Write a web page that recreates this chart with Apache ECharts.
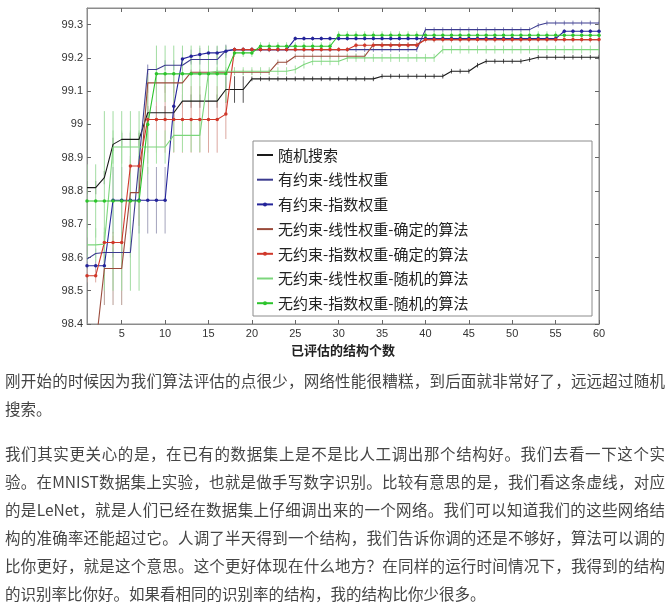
<!DOCTYPE html>
<html>
<head>
<meta charset="utf-8">
<script src="https://cdn.jsdelivr.net/npm/echarts@6/dist/echarts.min.js"></script>
<style>
  html, body { margin: 0; padding: 0; background: #fff; }
  #main { position: absolute; left: 0; top: 0; width: 670px; height: 603px; }
  #txt { position: absolute; left: 5px; top: 366px; width: 660px; font-family: 'Noto Sans CJK SC', sans-serif;
         font-size: 15.5px; line-height: 28px; color: #454545; z-index: 2; }
  #txt .j { text-align: justify; text-align-last: justify; }
  #txt .p2 { margin-top: 17px; }
</style>
</head>
<body>
<div id="main"></div>
<div id="txt">
  <div class="j">刚开始的时候因为我们算法评估的点很少，网络性能很糟糕，到后面就非常好了，远远超过随机</div>
  <div>搜索。</div>
  <div class="p2">
    <div class="j">我们其实更关心的是，在已有的数据集上是不是比人工调出那个结构好。我们去看一下这个实</div>
    <div class="j">验。在MNIST数据集上实验，也就是做手写数字识别。比较有意思的是，我们看这条虚线，对应</div>
    <div class="j">的是LeNet，就是人们已经在数据集上仔细调出来的一个网络。我们可以知道我们的这些网络结</div>
    <div class="j">构的准确率还能超过它。人调了半天得到一个结构，我们告诉你调的还是不够好，算法可以调的</div>
    <div class="j">比你更好，就是这个意思。这个更好体现在什么地方？在同样的运行时间情况下，我得到的结构</div>
    <div>的识别率比你好。如果看相同的识别率的结构，我的结构比你少很多。</div>
  </div>
</div>
<script>
// 横轴：已评估的结构个数
var xCats = [1,2,3,4,5,6,7,8,9,10,11,12,13,14,15,16,17,18,19,20,
  21,22,23,24,25,26,27,28,29,30,31,32,33,34,35,36,37,38,39,40,
  41,42,43,44,45,46,47,48,49,50,51,52,53,54,55,56,57,58,59,60];

var seriesNames = ['随机搜索', '有约束-线性权重', '有约束-指数权重', '无约束-线性权重-确定的算法',
  '无约束-指数权重-确定的算法', '无约束-线性权重-随机的算法', '无约束-指数权重-随机的算法'];

// 各曲线数值
var randomSearch = [98.81,98.81,98.84,98.94,98.955,98.955,98.955,99.035,99.035,99.035,
  99.035,99.07,99.07,99.07,99.07,99.07,99.105,99.105,99.105,99.137,
  99.137,99.137,99.137,99.137,99.137,99.137,99.137,99.137,99.137,99.137,
  99.137,99.137,99.137,99.137,99.145,99.145,99.145,99.145,99.145,99.145,
  99.145,99.145,99.16,99.16,99.16,99.178,99.19,99.19,99.19,99.19,
  99.19,99.195,99.202,99.202,99.202,99.202,99.202,99.202,99.202,99.202];
var conLinear = [98.595,98.612,98.615,98.615,98.615,98.615,98.89,99.165,99.165,99.178,
  99.178,99.178,99.195,99.195,99.195,99.195,99.222,99.225,99.225,99.225,
  99.225,99.225,99.225,99.225,99.225,99.225,99.225,99.225,99.225,99.225,
  99.225,99.225,99.225,99.225,99.225,99.225,99.225,99.225,99.225,99.285,
  99.285,99.285,99.285,99.285,99.285,99.285,99.285,99.285,99.285,99.285,
  99.285,99.285,99.298,99.305,99.305,99.305,99.305,99.305,99.305,99.305];
var conExp = [98.575,98.575,98.575,98.772,98.772,98.772,98.772,98.772,98.772,98.772,
  99.055,99.197,99.205,99.21,99.215,99.215,99.22,99.225,99.225,99.225,
  99.225,99.225,99.225,99.225,99.258,99.258,99.258,99.258,99.258,99.258,
  99.258,99.258,99.258,99.258,99.258,99.258,99.258,99.258,99.258,99.258,
  99.258,99.258,99.258,99.258,99.258,99.258,99.258,99.258,99.258,99.258,
  99.258,99.258,99.258,99.258,99.258,99.28,99.28,99.28,99.28,99.28];
var uncLinDet = [98.2,98.33,98.567,98.567,98.567,98.795,98.795,99.125,99.125,99.125,
  99.125,99.125,99.157,99.157,99.157,99.157,99.157,99.157,99.157,99.157,
  99.157,99.157,99.187,99.187,99.205,99.205,99.205,99.205,99.205,99.205,
  99.205,99.205,99.205,99.24,99.24,99.24,99.24,99.24,99.24,99.255,
  99.255,99.255,99.255,99.255,99.255,99.255,99.255,99.255,99.255,99.255,
  99.255,99.255,99.255,99.255,99.255,99.255,99.255,99.255,99.255,99.255];
var uncExpDet = [98.545,98.545,98.645,98.645,98.645,98.875,98.875,99.015,99.015,99.015,
  99.015,99.015,99.015,99.015,99.015,99.015,99.031,99.225,99.225,99.225,
  99.225,99.225,99.225,99.225,99.225,99.225,99.225,99.225,99.225,99.225,
  99.225,99.238,99.238,99.238,99.238,99.238,99.238,99.238,99.238,99.255,
  99.255,99.255,99.255,99.255,99.255,99.255,99.255,99.255,99.255,99.255,
  99.255,99.255,99.255,99.255,99.255,99.255,99.255,99.255,99.255,99.255];
var uncLinRand = [98.638,98.638,98.64,98.932,98.932,98.932,98.932,98.932,98.932,98.932,
  98.967,98.967,98.967,98.967,99.155,99.16,99.16,99.16,99.16,99.16,
  99.16,99.16,99.16,99.16,99.165,99.18,99.19,99.19,99.19,99.19,
  99.2,99.2,99.2,99.2,99.2,99.2,99.2,99.2,99.2,99.2,
  99.2,99.225,99.225,99.225,99.225,99.225,99.225,99.225,99.225,99.225,
  99.225,99.225,99.225,99.225,99.225,99.225,99.225,99.225,99.225,99.225];
var uncExpRand = [98.77,98.77,98.77,98.77,98.77,98.77,98.77,99.0,99.152,99.152,
  99.152,99.152,99.152,99.152,99.152,99.152,99.152,99.215,99.215,99.215,
  99.235,99.235,99.235,99.235,99.235,99.235,99.235,99.235,99.235,99.268,
  99.268,99.268,99.268,99.268,99.268,99.268,99.268,99.268,99.268,99.268,
  99.268,99.268,99.268,99.268,99.268,99.268,99.268,99.268,99.268,99.268,
  99.268,99.268,99.268,99.268,99.268,99.268,99.268,99.268,99.268,99.268];

// 误差棒半宽
var randomSearchErr = [0.02,0.02,0.02,0.02,0.02,0.02,0.02,0.02,0.02,0.02,
  0.02,0.02,0.02,0.02,0.02,0.02,0.04,0.04,0.04,0.007,
  0.007,0.007,0.007,0.007,0.007,0.007,0.007,0.007,0.007,0.007,
  0.007,0.007,0.007,0.007,0.007,0.007,0.007,0.007,0.007,0.007,
  0.007,0.007,0.007,0.007,0.007,0.007,0.007,0.007,0.007,0.007,
  0.007,0.007,0.007,0.007,0.007,0.007,0.007,0.007,0.007,0.007];
var conLinearErr = [0.015,0.015,0.015,0.015,0.015,0.015,0.015,0.015,0.015,0.015,
  0.015,0.015,0.015,0.015,0.015,0.015,0.015,0.007,0.007,0.007,
  0.007,0.007,0.007,0.007,0.007,0.007,0.007,0.007,0.007,0.007,
  0.007,0.007,0.007,0.007,0.007,0.007,0.007,0.007,0.007,0.007,
  0.007,0.007,0.007,0.007,0.007,0.007,0.007,0.007,0.007,0.007,
  0.007,0.007,0.007,0.007,0.007,0.007,0.007,0.007,0.007,0.007];
var conExpErr = [0.02,0.02,0.02,0.1,0.1,0.1,0.1,0.1,0.1,0.1,
  0.02,0.02,0.02,0.02,0.02,0.02,0.02,0.007,0.007,0.007,
  0.007,0.007,0.007,0.007,0.007,0.007,0.007,0.007,0.007,0.007,
  0.007,0.007,0.007,0.007,0.007,0.007,0.007,0.007,0.007,0.007,
  0.007,0.007,0.007,0.007,0.007,0.007,0.007,0.007,0.007,0.007,
  0.007,0.007,0.007,0.007,0.007,0.007,0.007,0.007,0.007,0.007];
var uncLinDetErr = [0,0,0.11,0.11,0.11,0.11,0.1,0.03,0.03,0.03,
  0.03,0.03,0.008,0.008,0.008,0.008,0.008,0.008,0.008,0.008,
  0.008,0.008,0.008,0.008,0.008,0.008,0.008,0.008,0.008,0.008,
  0.008,0.008,0.008,0.008,0.008,0.008,0.008,0.008,0.008,0.008,
  0.008,0.008,0.008,0.008,0.008,0.008,0.008,0.008,0.008,0.008,
  0.008,0.008,0.008,0.008,0.008,0.008,0.008,0.008,0.008,0.008];
var uncExpDetErr = [0.02,0.02,0.02,0.02,0.02,0.02,0.02,0.1,0.1,0.1,
  0.1,0.1,0.1,0.1,0.1,0.1,0.075,0.008,0.008,0.008,
  0.008,0.008,0.008,0.008,0.008,0.008,0.008,0.008,0.008,0.008,
  0.008,0.008,0.008,0.008,0.008,0.008,0.008,0.008,0.008,0.008,
  0.008,0.008,0.008,0.008,0.008,0.008,0.008,0.008,0.008,0.008,
  0.008,0.008,0.008,0.008,0.008,0.008,0.008,0.008,0.008,0.008];
var uncLinRandErr = [0.05,0.05,0.05,0.05,0.05,0.05,0.05,0.05,0.05,0.05,
  0.05,0.05,0.05,0.05,0.012,0.012,0.012,0.012,0.012,0.012,
  0.012,0.012,0.012,0.012,0.012,0.012,0.012,0.012,0.012,0.012,
  0.012,0.012,0.012,0.012,0.012,0.012,0.012,0.012,0.012,0.012,
  0.012,0.012,0.012,0.012,0.012,0.012,0.012,0.012,0.012,0.012,
  0.012,0.012,0.012,0.012,0.012,0.012,0.012,0.012,0.012,0.012];
var uncExpRandErr = [0.11,0.11,0.27,0.27,0.27,0.27,0.27,0.15,0.085,0.085,
  0.085,0.085,0.085,0.085,0.085,0.085,0.085,0.012,0.012,0.012,
  0.012,0.012,0.012,0.012,0.012,0.012,0.012,0.012,0.012,0.012,
  0.012,0.012,0.012,0.012,0.012,0.012,0.012,0.012,0.012,0.012,
  0.012,0.012,0.012,0.012,0.012,0.012,0.012,0.012,0.012,0.012,
  0.012,0.012,0.012,0.012,0.012,0.012,0.012,0.012,0.012,0.012];

var yTicks = { min: 98.4, max: 99.35, step: 0.1 };

var lineColors = ['#1a1a1a', '#3b3b8f', '#24249a', '#9a4a3a', '#d0382a', '#7cd67c', '#2cc42c'];
var errColors = ['#555555', '#8a8ab8', '#a4a4bc', '#b89c94', '#dca8a0', '#a8e2a8', '#a2dca2'];
var withMarker = [false, false, true, false, true, false, true];

var allValues = [randomSearch, conLinear, conExp, uncLinDet, uncExpDet, uncLinRand, uncExpRand];
var allErrs = [randomSearchErr, conLinearErr, conExpErr, uncLinDetErr, uncExpDetErr, uncLinRandErr, uncExpRandErr];

function everyFive(index) {
  return (index + 1) % 5 === 0;
}

function renderErr(params, api) {
  var i = api.value(0);
  var lo = api.coord([i, api.value(1)]);
  var hi = api.coord([i, api.value(2)]);
  return {
    type: 'line',
    shape: { x1: lo[0], y1: lo[1], x2: hi[0], y2: hi[1] },
    style: { stroke: api.visual('color'), lineWidth: 1 }
  };
}

var chart = echarts.init(document.getElementById('main'));

var series = [];
// 先画误差棒
allValues.forEach(function (vals, k) {
  var errs = allErrs[k];
  series.push({
    type: 'custom',
    name: 'err' + k,
    renderItem: renderErr,
    clip: true,
    silent: true,
    z: 1,
    itemStyle: { color: errColors[k] },
    encode: { x: 0, y: [1, 2] },
    data: vals.map(function (v, i) { return [i, v - errs[i], v + errs[i]]; })
  });
});
allValues.forEach(function (vals, k) {
  series.push({
    type: 'line',
    name: seriesNames[k],
    data: vals,
    z: 2,
    clip: true,
    symbol: withMarker[k] ? 'circle' : 'none',
    symbolSize: 3.5,
    showSymbol: withMarker[k],
    showAllSymbol: true,
    color: lineColors[k],
    lineStyle: { width: 1.1, color: lineColors[k] },
    itemStyle: { color: lineColors[k] },
    emphasis: { disabled: true }
  });
});

// 图例：无标记的曲线只显示线段
var legendData = seriesNames.map(function (n, k) {
  return withMarker[k] ? { name: n } : { name: n, itemStyle: { opacity: 0 } };
});

var option = {
  animation: false,
  backgroundColor: '#fff',
  grid: { left: 87, right: 71, top: 8, bottom: 279, show: true, borderColor: '#8c8c8c', borderWidth: 1 },
  legend: {
    orient: 'vertical',
    left: 256,
    top: 147,
    z: 6,
    padding: 0,
    itemWidth: 16,
    itemHeight: 5,
    itemGap: 8.7,
    data: legendData,
    selectedMode: false,
    textStyle: { fontFamily: 'Noto Sans CJK SC', fontSize: 15, lineHeight: 16, color: '#222' }
  },
  graphic: {
    elements: [{
      type: 'rect',
      z: 5,
      shape: { x: 253, y: 141, width: 339, height: 175 },
      style: { fill: '#fff', stroke: '#8c8c8c', lineWidth: 1 }
    }]
  },
  xAxis: [{
    type: 'category',
    data: xCats,
    boundaryGap: false,
    name: '已评估的结构个数',
    nameLocation: 'middle',
    nameGap: 17,
    nameTextStyle: { fontFamily: 'Noto Sans CJK SC', fontWeight: 'bold', fontSize: 13, color: '#222' },
    axisLine: { lineStyle: { color: '#8c8c8c' } },
    axisTick: { inside: true, length: 4, interval: everyFive, lineStyle: { color: '#666' } },
    axisLabel: { interval: everyFive, margin: 4, fontSize: 11, color: '#333', fontFamily: 'Liberation Sans' },
    splitLine: { show: false }
  }, {
    type: 'category',
    data: xCats,
    boundaryGap: false,
    position: 'top',
    axisLine: { lineStyle: { color: '#8c8c8c' } },
    axisTick: { inside: true, length: 4, interval: everyFive, lineStyle: { color: '#666' } },
    axisLabel: { show: false },
    splitLine: { show: false }
  }],
  yAxis: [{
    type: 'value',
    min: yTicks.min,
    max: yTicks.max,
    interval: yTicks.step,
    axisLine: { show: true, lineStyle: { color: '#8c8c8c' } },
    axisTick: { show: true, inside: true, length: 4, lineStyle: { color: '#666' } },
    axisLabel: {
      margin: 4, fontSize: 11, color: '#333', fontFamily: 'Liberation Sans', showMaxLabel: false,
      formatter: function (v) { return String(+v.toFixed(2)); }
    },
    splitLine: { show: false }
  }, {
    type: 'value',
    position: 'right',
    min: yTicks.min,
    max: yTicks.max,
    interval: yTicks.step,
    axisLine: { show: true, lineStyle: { color: '#8c8c8c' } },
    axisTick: { show: true, inside: true, length: 4, lineStyle: { color: '#666' } },
    axisLabel: { show: false },
    splitLine: { show: false }
  }],
  series: series
};

chart.setOption(option);
</script>
</body>
</html>
